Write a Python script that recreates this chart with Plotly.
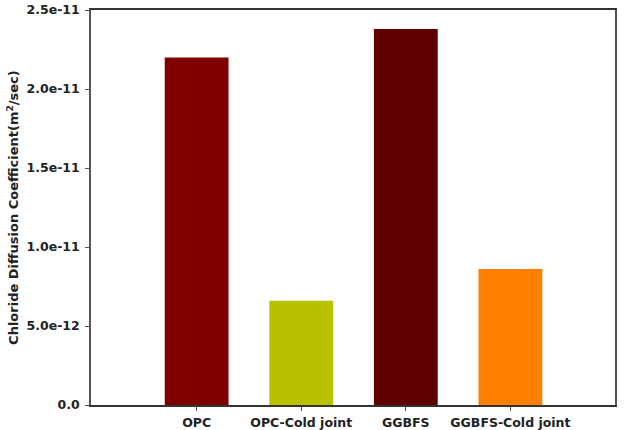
import plotly.graph_objects as go

categories = ["OPC", "OPC-Cold joint", "GGBFS", "GGBFS-Cold joint"]
values = [2.20e-11, 6.6e-12, 2.38e-11, 8.6e-12]
colors = ["#7f0000", "#b9c000", "#5e0000", "#ff8000"]
tick_vals = [0, 5e-12, 1e-11, 1.5e-11, 2e-11, 2.5e-11]
tick_text = ["0.0", "5.0e-12", "1.0e-11", "1.5e-11", "2.0e-11", "2.5e-11"]

fig = go.Figure(go.Bar(x=list(range(len(categories))), y=values, marker_color=colors,
                       marker_line_width=0, width=0.61))

font = dict(family="DejaVu Sans, sans-serif", size=12, color="#222")
fig.update_layout(
    width=626, height=430, margin=dict(l=91, r=11, t=10, b=25),
    paper_bgcolor="white", plot_bgcolor="white", showlegend=False,
    font=font,
)
fig.update_xaxes(range=[-1.01, 4.0], tickvals=list(range(len(categories))),
                 ticktext=["<b>%s</b>" % c for c in categories],
                 showline=True, linecolor="#333", linewidth=1.5, mirror=True,
                 ticks="outside", ticklen=4, tickcolor="#555", showgrid=False,
                 zeroline=False, tickfont=dict(size=12.5), automargin=False,
                 ticklabelstandoff=1)
fig.update_yaxes(range=[0, 2.5e-11], tickvals=tick_vals,
                 ticktext=["<b>%s</b>" % t for t in tick_text],
                 showline=True, linecolor="#555", linewidth=1.5, mirror=True,
                 ticks="outside", ticklen=4, tickcolor="#555", showgrid=False,
                 zeroline=False, tickfont=dict(size=12.5), automargin=False,
                 ticklabelstandoff=3)
fig.add_annotation(text="<b>Chloride Diffusion Coefficient(m<sup>2</sup>/sec)</b>",
                   xref="paper", yref="paper", x=-0.15, y=0.5, xanchor="center",
                   yanchor="middle", textangle=-90, showarrow=False,
                   font=dict(size=13, color="#222"))
fig.write_html("out.html")
